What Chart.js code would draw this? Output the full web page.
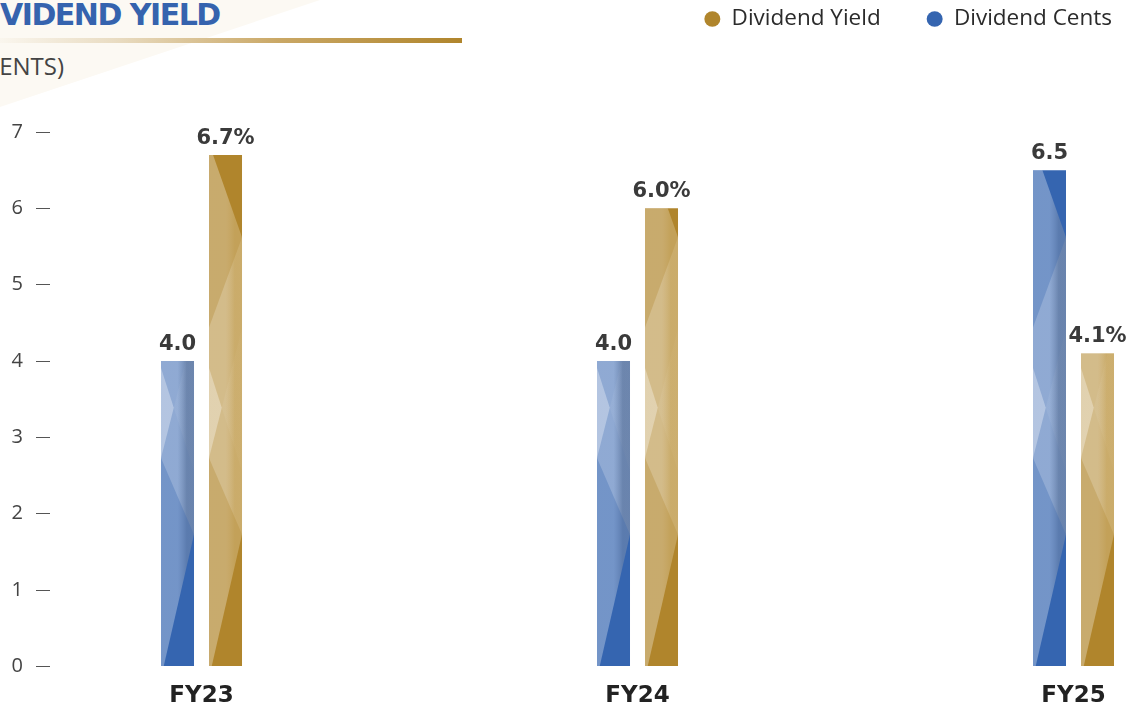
<!DOCTYPE html>
<html>
<head>
<meta charset="utf-8">
<title>Dividend Yield</title>
<script src="https://cdn.jsdelivr.net/npm/chart.js@4.4.1/dist/chart.umd.min.js"></script>
<style>
  html, body { margin: 0; padding: 0; width: 1128px; height: 708px; overflow: hidden; background: #fff; }
  .wedge {
    position: absolute; left: 0; top: 0; width: 330px; height: 110px;
    background: #fcf9f3;
    clip-path: polygon(0 0, 320px 0, 0 107px);
  }
  .title {
    position: absolute; left: -33px; top: 0;
    font: bold 30px/30px "DejaVu Sans", sans-serif;
    letter-spacing: -1.5px;
    color: #3563ae;
    white-space: nowrap;
  }
  .rule {
    position: absolute; left: 0; top: 38px; width: 462px; height: 5px;
    background: linear-gradient(to right, #faf6ee 0%, #e9dcc2 25%, #caa866 60%, #b0852c 100%);
  }
  .unit {
    position: absolute; left: -23px; top: 54px;
    font: 24px/24px "Open Sans", sans-serif;
    color: #444;
    white-space: nowrap;
  }
  #wrap { position: absolute; left: 0; top: 0; width: 1158px; height: 708px; }
</style>
</head>
<body>
<div class="wedge"></div>
<div class="title">DIVIDEND YIELD</div>
<div class="rule"></div>
<div class="unit">(CENTS)</div>
<div id="wrap"><canvas id="divChart" width="1158" height="708"></canvas></div>

<script>
// Dividend per share (cents) and dividend yield (%) by financial year
const categories = ['FY23', 'FY24', 'FY25'];
const dividendCents = [4.0, 4.0, 6.5];
const dividendYield = [6.7, 6.0, 4.1];
const yTicks = [0, 1, 2, 3, 4, 5, 6, 7];

const toPoints = values => values.map((v, i) => ({ x: i, y: v }));

// light facets laid over each bar: [u across bar, y in axis units]
const facetShapes = [
  { a: 0.31, pts: [[0, 6.85], [1, 5.62], [1, 1.73], [0, -0.15]] },
  { a: 0.20, pts: [[1, 5.62], [0, 4.44], [0, 2.73], [1, 1.73]] },
  { a: 0.32, pts: [[0, 3.91], [0.387, 3.39], [0, 2.73]] },
  { a: 0.06, pts: [[0.387, 3.39], [1, 4.43], [1, 2.56]] }
];
const facetTints = ['150,158,172', '225,205,160'];

const barFacets = {
  id: 'barFacets',
  afterDatasetDraw(chart, args) {
    const { ctx } = chart;
    const yScale = chart.scales.y;
    const tint = facetTints[args.index];
    args.meta.data.forEach(bar => {
      const { x, y, base, width } = bar.getProps(['x', 'y', 'base', 'width'], true);
      const left = x - width / 2;
      ctx.save();
      ctx.beginPath();
      ctx.rect(left, y, width, base - y);
      ctx.clip();
      facetShapes.forEach(s => {
        const g = ctx.createLinearGradient(left, 0, left + width, 0);
        g.addColorStop(0, `rgba(255,255,255,${s.a})`);
        g.addColorStop(0.5, `rgba(255,255,255,${s.a})`);
        g.addColorStop(0.78, `rgba(${tint},${s.a * 1.25})`);
        g.addColorStop(1, `rgba(${tint},${s.a * 1.25})`);
        ctx.fillStyle = g;
        ctx.beginPath();
        s.pts.forEach(([u, v], i) => {
          const px = left + u * width;
          const py = yScale.getPixelForValue(v);
          if (i) ctx.lineTo(px, py); else ctx.moveTo(px, py);
        });
        ctx.closePath();
        ctx.fill();
      });
      ctx.restore();
    });
  }
};

// value text above every bar
const valueLabels = {
  id: 'valueLabels',
  afterDatasetsDraw(chart) {
    const { ctx } = chart;
    ctx.save();
    ctx.font = 'bold 21px "DejaVu Sans"';
    ctx.fillStyle = '#3a3a3a';
    ctx.textAlign = 'center';
    ctx.textBaseline = 'alphabetic';
    chart.data.datasets.forEach((ds, i) => {
      chart.getDatasetMeta(i).data.forEach((bar, j) => {
        ctx.fillText(ds.data[j].y.toFixed(1) + ds.suffix, bar.x, bar.y - 11);
      });
    });
    ctx.restore();
  }
};

// leave room between the legend row and the plot
const legendGap = {
  id: 'legendGap',
  beforeInit(chart) {
    const fit = chart.legend.fit;
    chart.legend.fit = function () {
      fit.call(this);
      this.height = 170.25;
    };
  }
};

new Chart(document.getElementById('divChart'), {
  type: 'bar',
  data: {
    datasets: [
      {
        label: 'Dividend Cents',
        data: toPoints(dividendCents),
        suffix: '',
        backgroundColor: '#3565b0',
        borderWidth: 0
      },
      {
        label: 'Dividend Yield',
        data: toPoints(dividendYield),
        suffix: '%',
        backgroundColor: '#b0852c',
        borderWidth: 0
      }
    ]
  },
  options: {
    responsive: false,
    animation: false,
    devicePixelRatio: 1,
    categoryPercentage: 0.2202,
    barPercentage: 0.6875,
    layout: { padding: { top: -38.25, right: 0, bottom: -17.8, left: 0 } },
    plugins: {
      tooltip: { enabled: false },
      legend: {
        position: 'top',
        align: 'end',
        reverse: true,
        labels: {
          usePointStyle: true,
          pointStyle: 'circle',
          pointStyleWidth: 16,
          boxHeight: 11,
          padding: 46,
          color: '#2b2b2b',
          font: { family: 'Open Sans', size: 22.5 }
        }
      }
    },
    scales: {
      x: {
        type: 'linear',
        offset: false,
        min: -0.3475,
        max: 2.1938,
        grid: { display: false, drawTicks: false, offset: false },
        border: { display: false },
        ticks: {
          stepSize: 1,
          includeBounds: false,
          autoSkip: false,
          maxRotation: 0,
          padding: 17,
          color: '#222',
          font: { family: 'DejaVu Sans', size: 23, weight: 'bold', lineHeight: 1.1 },
          callback: v => categories[v] ?? ''
        }
      },
      y: {
        min: yTicks[0],
        max: yTicks[yTicks.length - 1],
        afterFit(scale) { scale.width = 50; },
        grid: {
          drawOnChartArea: false,
          drawTicks: true,
          tickLength: 14,
          tickColor: '#555',
          lineWidth: 1
        },
        border: { display: false },
        ticks: {
          stepSize: 1,
          padding: 13,
          color: '#444',
          font: { family: 'Open Sans', size: 20 }
        }
      }
    }
  },
  plugins: [barFacets, valueLabels, legendGap]
});
</script>
</body>
</html>
